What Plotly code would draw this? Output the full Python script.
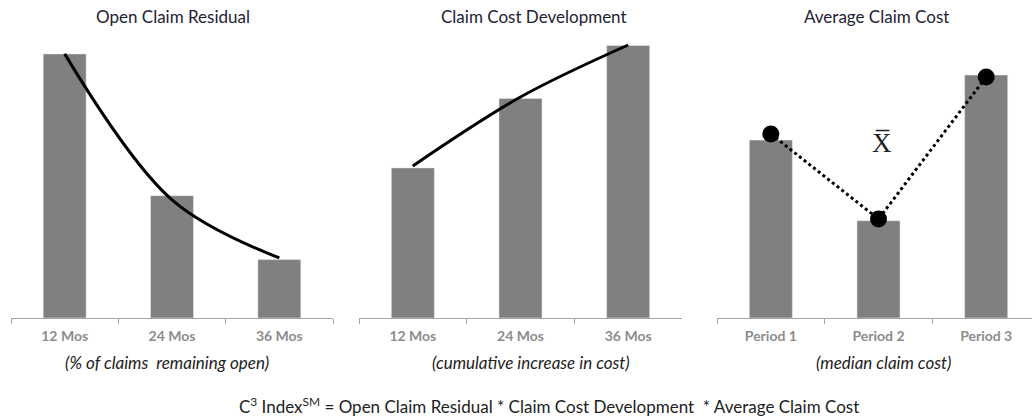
import plotly.graph_objects as go

# ---- data ----
panel_titles = ["Open Claim Residual", "Claim Cost Development", "Average Claim Cost"]
panel_subtitles = ["(% of claims\u00a0 remaining open)", "(cumulative increase in cost)", "(median claim cost)"]
months = ["12 Mos", "24 Mos", "36 Mos"]
periods = ["Period 1", "Period 2", "Period 3"]

open_residual_bars = [95, 44, 21]
open_residual_curve = [95, 42.5, 21.6]

cost_dev_bars = [54, 79, 98]
cost_dev_curve = [54.7, 79.5, 98.2]

avg_cost_bars = [64, 35, 87.4]
avg_cost_points = [66.2, 35.6, 86.7]

formula = "C<sup>3</sup> Index<sup>SM</sup> = Open Claim Residual * Claim Cost Development\u00a0 * Average Claim Cost"

W, H = 1032, 419
BAR = "#808080"
FONT = "Lato"

def px(x):
    return x / W

def py(y):
    return 1 - y / H

fig = go.Figure()

# panel 1
fig.add_trace(go.Bar(x=months, y=open_residual_bars, marker_color=BAR, width=0.4,
                     xaxis="x", yaxis="y", showlegend=False))
fig.add_trace(go.Scatter(x=months, y=open_residual_curve, mode="lines",
                         line=dict(color="black", width=3, shape="spline", smoothing=1.0),
                         xaxis="x", yaxis="y", showlegend=False))
# panel 2
fig.add_trace(go.Bar(x=months, y=cost_dev_bars, marker_color=BAR, width=0.4,
                     xaxis="x2", yaxis="y2", showlegend=False))
fig.add_trace(go.Scatter(x=months, y=cost_dev_curve, mode="lines",
                         line=dict(color="black", width=3, shape="spline", smoothing=1.0),
                         xaxis="x2", yaxis="y2", showlegend=False))
# panel 3
fig.add_trace(go.Bar(x=periods, y=avg_cost_bars, marker_color=BAR, width=0.4,
                     xaxis="x3", yaxis="y3", showlegend=False))
fig.add_trace(go.Scatter(x=periods, y=avg_cost_points, mode="lines+markers",
                         line=dict(color="black", width=3, dash="dot"),
                         marker=dict(color="black", size=17),
                         xaxis="x3", yaxis="y3", showlegend=False))

ydom = [py(318), py(40)]
xaxis_common = dict(
    type="category", showline=True, linecolor="#a6a6a6", linewidth=1,
    ticks="outside", tickson="boundaries", ticklen=5, tickcolor="#a6a6a6",
    showgrid=False, zeroline=False, fixedrange=True,
    tickfont=dict(family=FONT, size=14, color="#8c8c8c", weight="bold"),
    ticklabelstandoff=5,
)
yaxis_common = dict(range=[0, 100], domain=ydom, visible=False, fixedrange=True)

fig.update_layout(
    width=W, height=H,
    margin=dict(l=0, r=0, t=0, b=0),
    paper_bgcolor="white", plot_bgcolor="white",
    bargap=0.6,
    xaxis=dict(xaxis_common, domain=[px(11), px(333)], range=[-0.5, 2.5], anchor="y"),
    xaxis2=dict(xaxis_common, domain=[px(359), px(682)], range=[-0.5, 2.5], anchor="y2"),
    xaxis3=dict(xaxis_common, domain=[px(717), 1.0], range=[-0.5, -0.5 + 315 / 107.67], anchor="y3"),
    yaxis=dict(yaxis_common, anchor="x"),
    yaxis2=dict(yaxis_common, anchor="x2"),
    yaxis3=dict(yaxis_common, anchor="x3"),
)

title_x = [173, 534, 876]
sub_x = [167, 531, 883]
annotations = []
for t, s, tx, sx in zip(panel_titles, panel_subtitles, title_x, sub_x):
    annotations.append(dict(text=t, x=px(tx), y=py(16), xref="paper", yref="paper",
                            showarrow=False, xanchor="center", yanchor="middle",
                            font=dict(family=FONT, size=17, color="#1e2235")))
    annotations.append(dict(text="<i>" + s + "</i>", x=px(sx), y=py(362), xref="paper", yref="paper",
                            showarrow=False, xanchor="center", yanchor="middle",
                            font=dict(family=FONT, size=17, color="#222222")))
annotations.append(dict(text="X\u0305", x=px(882), y=py(143), xref="paper", yref="paper",
                        showarrow=False, xanchor="center", yanchor="middle",
                        font=dict(family="Liberation Serif", size=27, color="#222222")))
annotations.append(dict(text=formula, x=px(549), y=py(405), xref="paper", yref="paper",
                        showarrow=False, xanchor="center", yanchor="middle",
                        font=dict(family=FONT, size=17, color="#222222")))
fig.update_layout(annotations=annotations)

fig.write_html("out.html")
